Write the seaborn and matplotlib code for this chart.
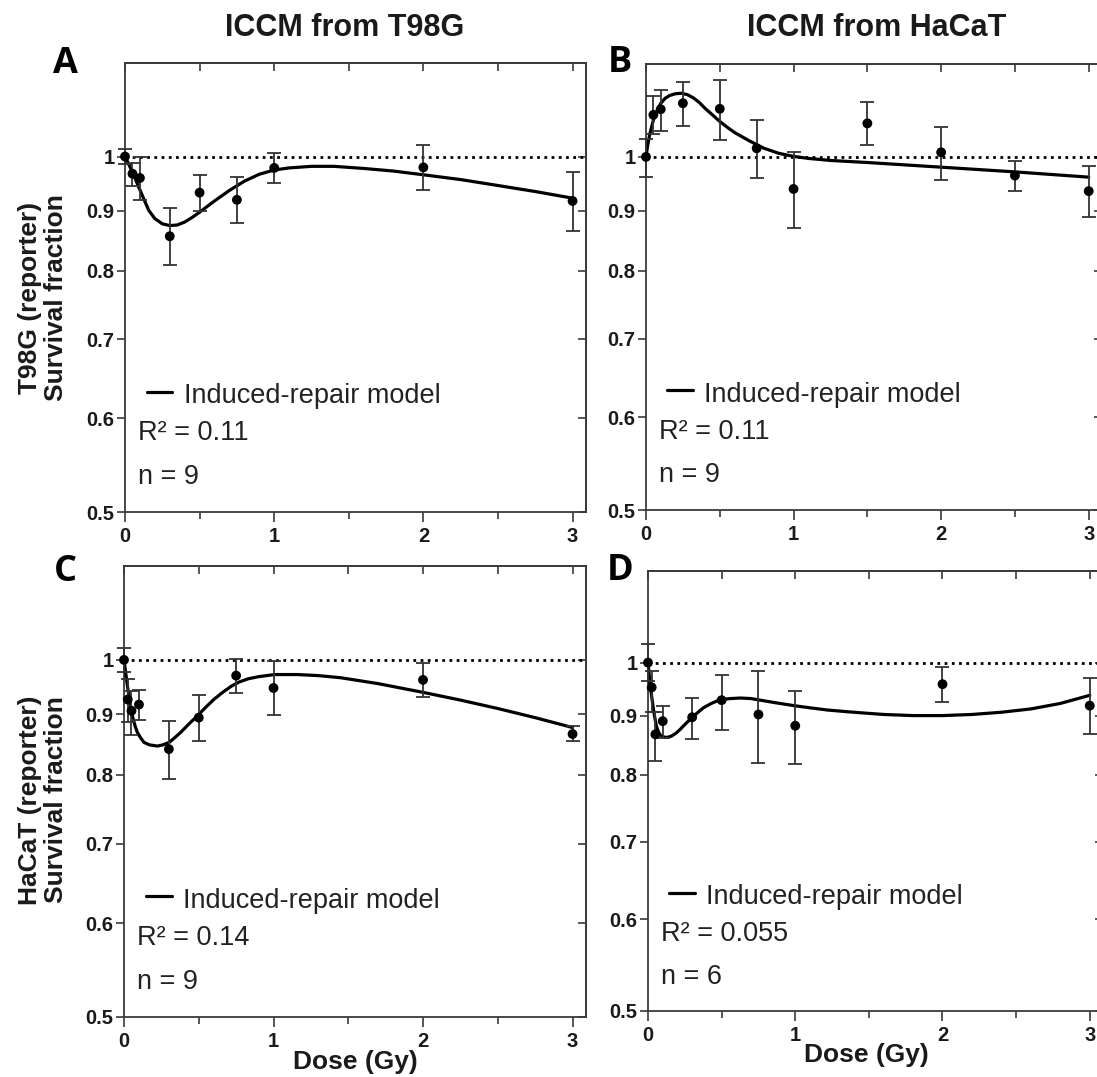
import numpy as np
import matplotlib
matplotlib.use("Agg")
import matplotlib.pyplot as plt
import seaborn as sns
from matplotlib.ticker import FixedLocator, NullLocator, FixedFormatter

sns.set_style("ticks")
plt.rcParams['font.family'] = ['Liberation Sans', 'DejaVu Sans']

# ---------------- data ----------------
col_titles = ["ICCM from T98G", "ICCM from HaCaT"]
row_labels = ["T98G (reporter)\nSurvival fraction", "HaCaT (reporter)\nSurvival fraction"]
panel_letters = ["A", "B", "C", "D"]
r2_texts = ["0.11", "0.11", "0.14", "0.055"]
n_texts = ["9", "9", "9", "6"]
legend_label = "Induced-repair model"
y_ticks = [0.5, 0.6, 0.7, 0.8, 0.9, 1.0]
y_ticklabels = ["0.5", "0.6", "0.7", "0.8", "0.9", "1"]
x_ticks = [0, 1, 2, 3]
x_minor = [0.5, 1.5, 2.5]

# Panel A
dose_A = [0, 0.05, 0.1, 0.3, 0.5, 0.75, 1, 2, 3]
sf_A = [1.0, 0.967, 0.959, 0.856, 0.932, 0.919, 0.978, 0.979, 0.917]
hi_A = [1.015, 0.987, 1.0, 0.904, 0.964, 0.960, 1.006, 1.023, 0.970]
lo_A = [0.986, 0.945, 0.919, 0.810, 0.899, 0.878, 0.949, 0.936, 0.864]
fitx_A = [0, 0.02, 0.04, 0.06, 0.08, 0.1, 0.13, 0.16, 0.2, 0.25, 0.3, 0.35, 0.4, 0.45, 0.5, 0.55, 0.6,
          0.7, 0.8, 0.9, 1.0, 1.1, 1.25, 1.4, 1.6, 1.8, 2.0, 2.25, 2.5, 2.75, 3.0]
fity_A = [1.0, 0.988, 0.976, 0.963, 0.950, 0.937, 0.918, 0.900, 0.886, 0.877, 0.874, 0.875, 0.880, 0.888,
          0.897, 0.907, 0.917, 0.936, 0.953, 0.966, 0.974, 0.978, 0.981, 0.981, 0.977, 0.972, 0.965, 0.956,
          0.945, 0.934, 0.922]

# Panel B
dose_B = [0, 0.05, 0.1, 0.25, 0.5, 0.75, 1, 1.5, 2, 2.5, 3]
sf_B = [1.0, 1.086, 1.098, 1.111, 1.099, 1.017, 0.939, 1.068, 1.009, 0.964, 0.935]
hi_B = [1.036, 1.127, 1.141, 1.159, 1.164, 1.075, 1.010, 1.113, 1.061, 0.991, 0.982]
lo_B = [0.961, 1.046, 1.053, 1.063, 1.034, 0.959, 0.869, 1.023, 0.956, 0.936, 0.889]
fitx_B = [0, 0.01, 0.025, 0.05, 0.075, 0.1, 0.13, 0.16, 0.2, 0.24, 0.28, 0.32, 0.36, 0.4, 0.45, 0.5,
          0.55, 0.6, 0.7, 0.8, 0.9, 1.0, 1.1, 1.25, 1.5, 2.0, 2.5, 3.0]
fity_B = [1.0, 1.02, 1.045, 1.075, 1.095, 1.111, 1.122, 1.128, 1.132, 1.133, 1.130, 1.123, 1.113, 1.100,
          1.086, 1.072, 1.060, 1.049, 1.032, 1.017, 1.007, 1.001, 0.997, 0.993, 0.989, 0.980, 0.971, 0.961]

# Panel C
dose_C = [0, 0.025, 0.05, 0.1, 0.3, 0.5, 0.75, 1, 2, 3]
sf_C = [1.0, 0.926, 0.906, 0.917, 0.841, 0.894, 0.970, 0.947, 0.962, 0.866]
hi_C = [1.024, 0.963, 0.942, 0.943, 0.889, 0.935, 1.002, 0.997, 0.995, 0.879]
lo_C = [0.977, 0.887, 0.865, 0.890, 0.794, 0.854, 0.938, 0.899, 0.931, 0.855]
fitx_C = [0, 0.01, 0.022, 0.035, 0.056, 0.075, 0.089, 0.11, 0.134, 0.17, 0.224, 0.26, 0.302, 0.34, 0.38,
          0.43, 0.49, 0.55, 0.60, 0.66, 0.716, 0.77, 0.83, 0.9, 1.007, 1.16, 1.3, 1.45, 1.7, 2.0, 2.25,
          2.5, 2.75, 3.0]
fity_C = [1.0, 0.978, 0.953, 0.928, 0.897, 0.879, 0.869, 0.860, 0.852, 0.848, 0.846, 0.848, 0.852, 0.860,
          0.869, 0.882, 0.897, 0.913, 0.926, 0.939, 0.950, 0.958, 0.964, 0.968, 0.972, 0.972, 0.970, 0.966,
          0.955, 0.939, 0.925, 0.910, 0.894, 0.877]

# Panel D
dose_D = [0, 0.025, 0.05, 0.1, 0.3, 0.5, 0.75, 1, 2, 3]
sf_D = [1.0, 0.952, 0.867, 0.890, 0.897, 0.928, 0.902, 0.882, 0.958, 0.918]
hi_D = [1.037, 0.984, 0.907, 0.918, 0.932, 0.976, 0.984, 0.945, 0.991, 0.970]
lo_D = [0.965, 0.907, 0.823, 0.860, 0.859, 0.874, 0.819, 0.818, 0.925, 0.867]
fitx_D = [0, 0.008, 0.016, 0.025, 0.034, 0.045, 0.057, 0.07, 0.08, 0.095, 0.114, 0.135, 0.159, 0.19,
          0.216, 0.25, 0.296, 0.34, 0.376, 0.43, 0.49, 0.56, 0.627, 0.7, 0.763, 0.85, 0.991, 1.1, 1.22,
          1.35, 1.447, 1.6, 1.8, 2.0, 2.2, 2.4, 2.6, 2.8, 3.0]
fity_D = [1.0, 0.977, 0.954, 0.935, 0.917, 0.898, 0.881, 0.872, 0.867, 0.864, 0.862, 0.862, 0.864, 0.869,
          0.875, 0.884, 0.896, 0.906, 0.914, 0.922, 0.929, 0.931, 0.932, 0.931, 0.928, 0.924, 0.918, 0.914,
          0.910, 0.907, 0.905, 0.902, 0.900, 0.900, 0.902, 0.906, 0.912, 0.922, 0.937]

panels = [
    (dose_A, sf_A, hi_A, lo_A, fitx_A, fity_A),
    (dose_B, sf_B, hi_B, lo_B, fitx_B, fity_B),
    (dose_C, sf_C, hi_C, lo_C, fitx_C, fity_C),
    (dose_D, sf_D, hi_D, lo_D, fitx_D, fity_D),
]

# ---------------- layout (pixel boxes: left, top, right, bottom) ----------------
W, H = 1097, 1077
fig = plt.figure(figsize=(W / 100, H / 100), dpi=100)
boxes = [(125, 63, 586, 512), (646, 64, 1102, 510), (124, 566, 586, 1017), (648, 571, 1103, 1011)]
letter_pos = [(65, 64), (620, 63), (65, 572), (620, 571)]

spine_col = "#3a3a3a"
for i, (box, data) in enumerate(zip(boxes, panels)):
    l, t, r, b = box
    ax = fig.add_axes([l / W, 1 - b / H, (r - l) / W, (b - t) / H])
    dose, sf, hi, lo, fx, fy = [np.asarray(v, dtype=float) for v in data]

    ax.set_yscale("log")
    ax.set_ylim(0.5, 1.2)
    ax.set_xlim(0, 3.09)

    ax.axhline(1.0, color="black", lw=2.0, ls=(0, (1, 1.6)), zorder=1)
    sns.lineplot(x=fx, y=fy, ax=ax, color="black", lw=2.3, estimator=None, sort=False, zorder=3)
    ax.lines[-1].set_solid_joinstyle("round")
    eb = ax.errorbar(dose, sf, yerr=[sf - lo, hi - sf], fmt="none", ecolor="#333333",
                     elinewidth=1.3, capsize=5, capthick=1.3, zorder=4)
    for art in eb.lines[1] + eb.lines[2]:
        art.set_clip_on(False)
    sns.scatterplot(x=dose, y=sf, ax=ax, color="black", s=50, edgecolor="none", zorder=5)
    ax.collections[-1].set_clip_on(False)

    for sp in ax.spines.values():
        sp.set_visible(True)
        sp.set_color(spine_col)
        sp.set_linewidth(1.3)

    ax.yaxis.set_major_locator(FixedLocator(y_ticks))
    ax.yaxis.set_major_formatter(FixedFormatter(y_ticklabels))
    ax.yaxis.set_minor_locator(NullLocator())
    ax.xaxis.set_major_locator(FixedLocator(x_ticks))
    ax.xaxis.set_minor_locator(FixedLocator(x_minor))
    ax.tick_params(axis="y", which="major", direction="out", length=6, width=1.2, color=spine_col,
                   labelsize=14.5, pad=1.5, left=True, right=False)
    ax.tick_params(axis="x", which="major", direction="out", length=7, width=1.2, color=spine_col,
                   labelsize=14.5, pad=4, bottom=True, top=False)
    ax.tick_params(axis="x", which="minor", direction="out", length=5, width=1.2, color=spine_col,
                   bottom=True, top=False)
    for lab in ax.get_xticklabels() + ax.get_yticklabels():
        lab.set_fontweight("bold")
        lab.set_color("#1a1a1a")
    ax.set_xlabel("")
    ax.set_ylabel("")

    # mirrored inward ticks on top and right
    sx = ax.secondary_xaxis("top")
    sx.xaxis.set_major_locator(FixedLocator(x_ticks))
    sx.xaxis.set_minor_locator(FixedLocator(x_minor))
    sx.tick_params(which="both", direction="in", length=6, width=1.2, color=spine_col, labeltop=False)
    sx.spines["top"].set_color(spine_col)
    sx.spines["top"].set_linewidth(1.3)
    sy = ax.secondary_yaxis("right")
    sy.yaxis.set_major_locator(FixedLocator(y_ticks))
    sy.yaxis.set_minor_locator(NullLocator())
    sy.tick_params(which="both", direction="in", length=6, width=1.2, color=spine_col, labelright=False)
    sy.spines["right"].set_color(spine_col)
    sy.spines["right"].set_linewidth(1.3)

    # legend-like annotation
    ax.plot([0.047, 0.103], [0.268, 0.268], transform=ax.transAxes, color="black", lw=2.3)
    ax.text(0.128, 0.258, legend_label, transform=ax.transAxes, fontsize=19.5, va="center", ha="left",
            color="#222222")
    ax.text(0.028, 0.176, "R\u00b2 = " + r2_texts[i], transform=ax.transAxes, fontsize=19.5, va="center",
            ha="left", color="#222222")
    ax.text(0.028, 0.078, "n = " + n_texts[i], transform=ax.transAxes, fontsize=19.5, va="center",
            ha="left", color="#222222")

    if i >= 2:
        ax.text(0.5 if i == 2 else 0.48, -0.1, "Dose (Gy)", transform=ax.transAxes, fontsize=19,
                fontweight="bold", ha="center", va="center", color="#1a1a1a")

    lx, ly = letter_pos[i]
    fig.text(lx / W, 1 - ly / H, panel_letters[i], fontsize=26, fontweight="bold", ha="center",
             va="center", color="black", family=["Open Sans", "DejaVu Sans"])

# column titles
fig.text(345 / W, 1 - 28 / H, col_titles[0], fontsize=22, fontweight="bold", ha="center", va="center",
         color="#1a1a1a")
fig.text(877 / W, 1 - 28 / H, col_titles[1], fontsize=22, fontweight="bold", ha="center", va="center",
         color="#1a1a1a")
# row labels
fig.text(43 / W, 1 - 298 / H, row_labels[0], fontsize=19, fontweight="bold", rotation=90, ha="center",
         va="center", multialignment="center", linespacing=1.15, color="#1a1a1a")
fig.text(43 / W, 1 - 800 / H, row_labels[1], fontsize=19, fontweight="bold", rotation=90, ha="center",
         va="center", multialignment="center", linespacing=1.15, color="#1a1a1a")

fig.savefig("out.png", dpi=100)
